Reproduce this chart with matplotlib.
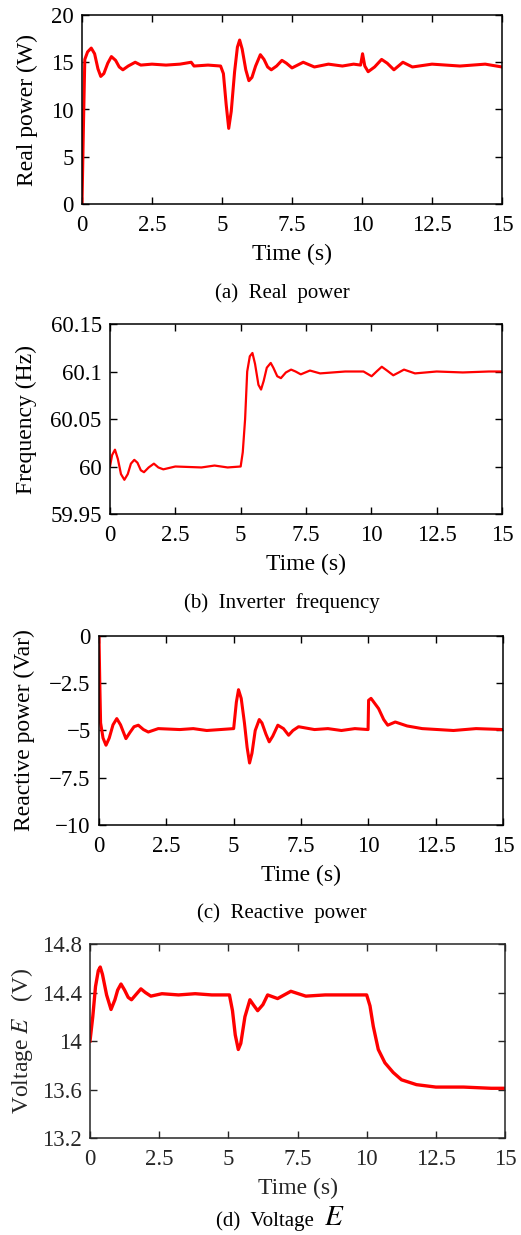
import matplotlib
matplotlib.use("Agg")
import matplotlib.pyplot as plt
from matplotlib.ticker import FuncFormatter

plt.rcParams['font.family'] = ['Liberation Serif', 'DejaVu Serif']
plt.rcParams['mathtext.fontset'] = 'stix'

## data (key points of each trace)
t_p = [0.0, 0.05, 0.1, 0.2, 0.33, 0.45, 0.57, 0.67, 0.78, 0.92, 1.05, 1.2, 1.33, 1.46, 1.65,
       1.9, 2.1, 2.5, 3.0, 3.5, 3.9, 4.0, 4.5, 4.95, 5.05, 5.15, 5.24, 5.33, 5.45, 5.55, 5.63,
       5.72, 5.85, 5.96, 6.07, 6.2, 6.37, 6.5, 6.63, 6.76, 6.95, 7.14, 7.3, 7.5, 7.9, 8.3, 8.8,
       9.3, 9.7, 9.95, 10.02, 10.1, 10.22, 10.45, 10.7, 10.9, 11.14, 11.46, 11.8, 12.5, 13.5,
       14.4, 15.0]
p_vals = [0.0, 8.0, 15.3, 16.1, 16.5, 15.9, 14.3, 13.5, 13.8, 14.9, 15.6, 15.2, 14.5, 14.2,
          14.6, 15.0, 14.7, 14.8, 14.7, 14.8, 15.0, 14.6, 14.7, 14.6, 13.8, 10.5, 8.0, 9.8,
          14.0, 16.6, 17.35, 16.4, 14.2, 13.05, 13.4, 14.6, 15.8, 15.3, 14.5, 14.2, 14.6, 15.2,
          14.9, 14.4, 15.0, 14.5, 14.8, 14.6, 14.8, 14.7, 15.9, 14.6, 14.0, 14.5, 15.3, 14.9,
          14.2, 15.0, 14.5, 14.8, 14.6, 14.8, 14.5]

t_f = [0.0, 0.08, 0.19, 0.3, 0.42, 0.55, 0.68, 0.8, 0.93, 1.05, 1.18, 1.3, 1.48, 1.68, 1.85,
       2.04, 2.5, 3.5, 4.0, 4.5, 5.0, 5.08, 5.17, 5.25, 5.35, 5.45, 5.55, 5.68, 5.78, 5.88,
       6.0, 6.15, 6.25, 6.4, 6.54, 6.73, 6.93, 7.1, 7.3, 7.65, 8.04, 9.0, 9.7, 10.01, 10.2,
       10.4, 10.6, 10.84, 11.05, 11.25, 11.67, 12.5, 13.5, 14.5, 15.0]
f_vals = [60.0, 60.012, 60.0177, 60.008, 59.992, 59.986, 59.992, 60.003, 60.007, 60.004,
          59.996, 59.994, 59.999, 60.003, 59.999, 59.997, 60.0, 59.999, 60.001, 59.999, 60.0,
          60.015, 60.05, 60.1, 60.116, 60.1195, 60.108, 60.086, 60.081, 60.09, 60.104, 60.109,
          60.104, 60.095, 60.093, 60.099, 60.102, 60.1, 60.097, 60.101, 60.098, 60.1, 60.1,
          60.095, 60.1, 60.105, 60.101, 60.096, 60.099, 60.102, 60.098, 60.1, 60.099, 60.1,
          60.1]

t_q = [0.0, 0.03, 0.06, 0.15, 0.26, 0.38, 0.52, 0.66, 0.8, 1.0, 1.15, 1.3, 1.46, 1.65, 1.83,
       2.2, 3.0, 3.5, 4.0, 4.5, 5.0, 5.1, 5.18, 5.28, 5.4, 5.5, 5.59, 5.68, 5.8, 5.95, 6.05,
       6.2, 6.32, 6.45, 6.64, 6.85, 7.04, 7.2, 7.41, 8.0, 8.5, 9.0, 9.5, 9.99, 10.01, 10.1,
       10.38, 10.57, 10.72, 11.0, 11.44, 12.0, 13.16, 14.0, 15.0]
q_vals = [0.0, -2.5, -4.6, -5.4, -5.78, -5.4, -4.7, -4.37, -4.7, -5.43, -5.1, -4.8, -4.72,
          -4.95, -5.08, -4.9, -4.95, -4.9, -5.0, -4.95, -4.9, -3.5, -2.84, -3.3, -4.6, -5.9,
          -6.72, -6.2, -5.0, -4.42, -4.6, -5.2, -5.6, -5.3, -4.72, -4.9, -5.25, -5.0, -4.8,
          -4.95, -4.9, -5.0, -4.9, -4.95, -3.4, -3.3, -3.84, -4.42, -4.72, -4.55, -4.76, -4.9,
          -5.0, -4.9, -4.95]

t_e = [0.0, 0.1, 0.2, 0.3, 0.37, 0.45, 0.6, 0.76, 0.9, 1.0, 1.12, 1.25, 1.38, 1.5, 1.65,
       1.84, 2.0, 2.2, 2.6, 3.2, 3.8, 4.4, 5.04, 5.15, 5.25, 5.36, 5.45, 5.6, 5.78, 5.9, 6.06,
       6.25, 6.42, 6.78, 7.26, 7.8, 8.5, 9.2, 10.0, 10.12, 10.24, 10.42, 10.66, 10.96, 11.26,
       11.8, 12.5, 13.5, 14.5, 15.0]
e_vals = [14.0, 14.2, 14.45, 14.58, 14.61, 14.55, 14.38, 14.26, 14.34, 14.42, 14.47, 14.42,
          14.36, 14.34, 14.38, 14.43, 14.4, 14.37, 14.39, 14.38, 14.39, 14.38, 14.38, 14.25,
          14.05, 13.93, 13.98, 14.2, 14.34, 14.3, 14.25, 14.3, 14.38, 14.35, 14.41, 14.37,
          14.38, 14.38, 14.38, 14.29, 14.12, 13.93, 13.82, 13.74, 13.68, 13.64, 13.62, 13.62,
          13.61, 13.61]

x_ticks = [0, 2.5, 5, 7.5, 10, 12.5, 15]
p_ticks = [0, 5, 10, 15, 20]
f_ticks = [59.95, 60, 60.05, 60.1, 60.15]
q_ticks = [0, -2.5, -5, -7.5, -10]
e_ticks = [13.2, 13.6, 14, 14.4, 14.8]

panels = [
    # (x, y, yticks, ylim, ylabel, caption, rect in px, ylabel x, lw, frame colour)
    (t_p, p_vals, p_ticks, (0, 20), "Real power (W)", "(a)  Real  power",
     [82, 15, 502, 204], 27, 2.2, 'black'),
    (t_f, f_vals, f_ticks, (59.95, 60.15), "Frequency (Hz)", "(b)  Inverter  frequency",
     [110, 324, 502, 514], 26, 1.6, 'black'),
    (t_q, q_vals, q_ticks, (-10, 0), "Reactive power (Var)", "(c)  Reactive  power",
     [99, 636, 503, 825], 24, 2.2, 'black'),
    (t_e, e_vals, e_ticks, (13.2, 14.8), "Voltage $E$   (V)", None,
     [90, 944, 505, 1138], 22, 2.4, '#262626'),
]
caption_y = [293, 603, 913, 1221]

W, H = 521, 1235
fig = plt.figure(figsize=(W / 100, H / 100), dpi=100)

fmt = FuncFormatter(lambda v, pos: ("%g" % v).replace("-", "\u2212"))

for (xs, ys, yt, yl, ylab, cap, r, ylx, lw, fc), cy in zip(panels, caption_y):
    ax = fig.add_axes([r[0] / W, 1 - r[3] / H, (r[2] - r[0]) / W, (r[3] - r[1]) / H])
    ax.plot(xs, ys, color='red', linewidth=lw)
    ax.set_xlim(0, 15)
    ax.set_ylim(*yl)
    ax.set_xticks(x_ticks)
    ax.set_yticks(yt)
    ax.xaxis.set_major_formatter(fmt)
    ax.yaxis.set_major_formatter(fmt)
    ax.tick_params(direction='in', length=5, width=1, top=True, right=True,
                   labelsize=16.5, colors=fc, pad=6)
    for s in ax.spines.values():
        s.set_linewidth(1.1)
        s.set_color(fc)
    ax.xaxis.set_tick_params(pad=8)
    # axis labels
    xc = (r[0] + r[2]) / 2 / W
    fig.text(xc, 1 - (r[3] + 50) / H, "Time (s)", ha='center', va='center',
             fontsize=17, color=fc)
    fig.text(ylx / W, 1 - (r[1] + r[3]) / 2 / H, ylab, ha='center', va='center',
             rotation=90, fontsize=17, color=fc)
    if cap:
        fig.text(282 / W, 1 - cy / H, cap, ha='center', va='center', fontsize=15)

# caption (d) has a bigger math E
fig.text(314 / W, 1 - caption_y[3] / H, "(d)  Voltage", ha='right', va='center', fontsize=15)
fig.text(324 / W, 1 - (caption_y[3] - 3) / H, "$E$", ha='left', va='center', fontsize=21)

fig.savefig("out.png", dpi=100)
